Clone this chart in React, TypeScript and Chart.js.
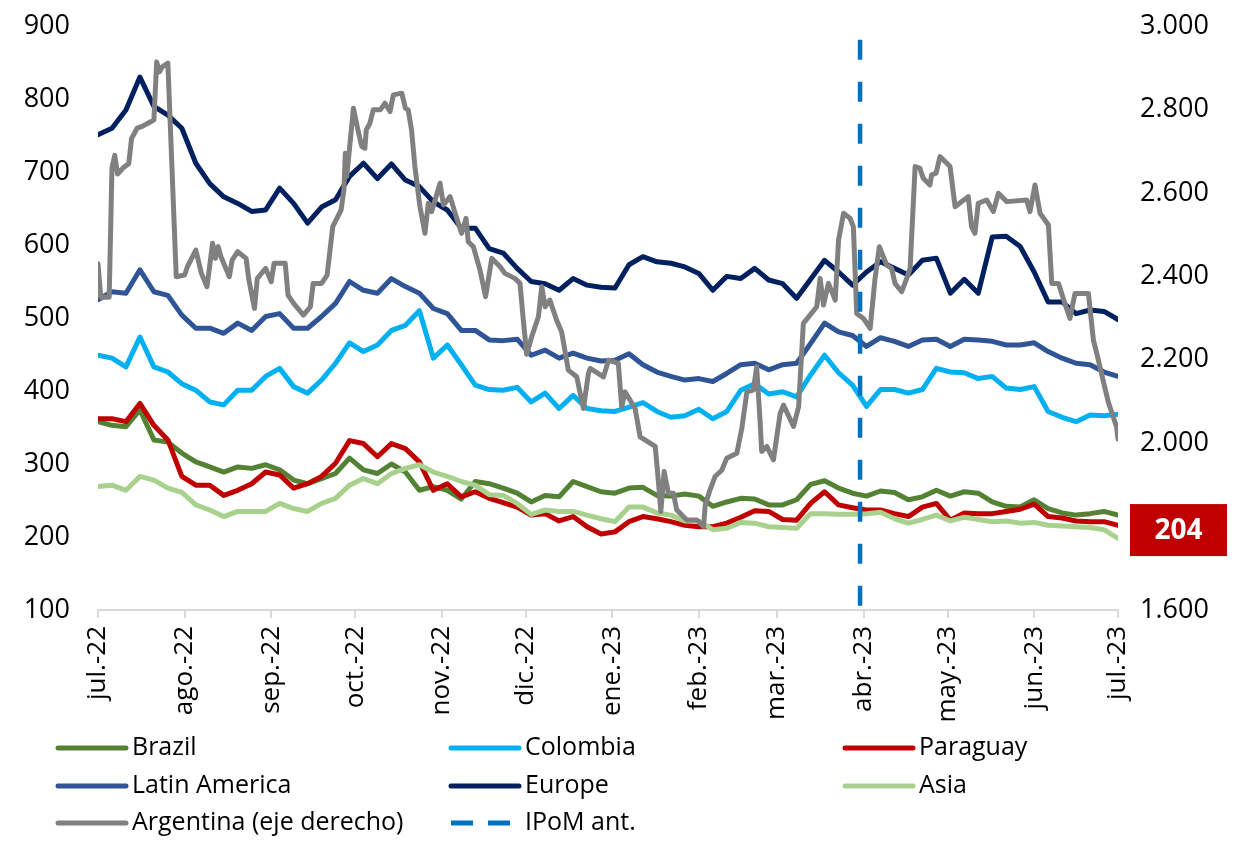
import React, { useEffect, useRef } from "react";
import { Chart, registerables } from "chart.js";

Chart.register(...registerables);

// ---- axis categories ----
const monthDays = [0, 31, 62, 92, 123, 153, 184, 215, 243, 274, 304, 335, 365];
const monthLabels = ["jul.-22", "ago.-22", "sep.-22", "oct.-22", "nov.-22", "dic.-22", "ene.-23", "feb.-23", "mar.-23", "abr.-23", "may.-23", "jun.-23", "jul.-23"];

// days since 1-jul-22 for the regularly sampled series
const sampleDays = [
  0, 5, 10, 15, 20, 25, 30, 35, 40, 45, 50, 55, 60, 65, 70, 75, 80, 85, 90, 95,
  100, 105, 110, 115, 120, 125, 130, 135, 140, 145, 150, 155, 160, 165, 170, 175, 180, 185, 190, 195,
  200, 205, 210, 215, 220, 225, 230, 235, 240, 245, 250, 255, 260, 265, 270, 275, 280, 285, 290, 295,
  300, 305, 310, 315, 320, 325, 330, 335, 340, 345, 350, 355, 360, 365,
];

// ---- series values (left axis) ----
const brazil = [
  358, 353, 351, 374, 333, 330, 315, 303, 296, 289, 296, 294, 299, 292, 278, 273, 280, 287, 308, 292,
  287, 300, 289, 264, 269, 264, 252, 276, 273, 267, 260, 248, 257, 255, 276, 269, 262, 260, 267, 268,
  257, 256, 259, 256, 242, 248, 253, 252, 244, 244, 251, 272, 277, 267, 260, 256, 263, 261, 251, 255,
  264, 256, 262, 260, 248, 242, 241, 251, 239, 233, 230, 232, 235, 230,
];
const colombia = [
  449, 445, 433, 474, 433, 426, 410, 401, 385, 381, 401, 401, 420, 431, 406, 397, 415, 438, 466, 454,
  463, 483, 490, 510, 445, 463, 436, 408, 402, 401, 405, 385, 397, 376, 394, 376, 373, 372, 378, 384,
  372, 364, 366, 375, 362, 372, 401, 410, 396, 399, 392, 422, 449, 425, 408, 379, 402, 402, 397, 402,
  431, 426, 425, 417, 420, 404, 402, 406, 372, 364, 358, 367, 366, 368,
];
const paraguay = [
  362, 362, 358, 383, 353, 333, 283, 271, 271, 257, 264, 273, 289, 285, 267, 273, 283, 301, 332, 328,
  310, 328, 321, 303, 264, 273, 255, 262, 253, 247, 241, 230, 232, 222, 228, 214, 204, 207, 221, 228,
  225, 221, 216, 214, 214, 219, 227, 236, 235, 224, 223, 246, 262, 244, 240, 237, 237, 232, 228, 241,
  246, 223, 233, 232, 232, 235, 238, 245, 228, 226, 222, 221, 221, 216,
];
const latinAmerica = [
  525, 536, 534, 566, 536, 531, 504, 486, 486, 479, 493, 483, 502, 506, 486, 486, 502, 520, 550, 538,
  534, 554, 543, 534, 513, 506, 483, 483, 470, 469, 471, 449, 456, 445, 452, 445, 441, 442, 451, 436,
  426, 420, 415, 417, 413, 424, 436, 438, 429, 436, 438, 465, 493, 481, 476, 461, 473, 468, 461, 470,
  471, 461, 471, 470, 468, 463, 463, 466, 454, 445, 438, 436, 426, 420,
];
const europe = [
  751, 760, 785, 830, 790, 778, 760, 712, 684, 666, 657, 646, 648, 678, 657, 630, 652, 662, 694, 712,
  691, 711, 689, 680, 659, 648, 623, 623, 595, 589, 568, 550, 547, 538, 554, 545, 542, 541, 573, 584,
  577, 575, 570, 561, 538, 557, 554, 568, 552, 547, 527, 553, 579, 563, 545, 563, 577, 568, 559, 579,
  582, 534, 553, 534, 611, 612, 598, 563, 522, 522, 506, 511, 509, 498,
];
const asia = [
  269, 271, 264, 283, 278, 267, 261, 244, 237, 228, 235, 235, 235, 246, 239, 235, 246, 253, 271, 280,
  273, 287, 294, 299, 289, 283, 276, 271, 258, 257, 246, 231, 237, 235, 235, 230, 225, 221, 241, 241,
  233, 230, 222, 222, 210, 212, 220, 219, 214, 213, 212, 232, 232, 231, 231, 232, 234, 225, 219, 224,
  230, 222, 227, 224, 221, 222, 219, 220, 216, 215, 214, 213, 210, 198,
];

// ---- Argentina (right axis), irregular observation days ----
const argentinaDays = [
  0, 1, 4, 5, 6, 7, 9, 11, 12, 14, 16, 19, 20, 21, 22, 23, 25, 28, 31, 32,
  35, 37, 39, 41, 42, 43, 44, 47, 48, 50, 53, 54, 56, 57, 60, 62, 63, 67, 68, 70,
  73.5, 76, 77, 80, 82, 84, 87, 88, 88.5, 89, 89.6, 91.4, 93, 94.4, 95.5, 96, 97.3, 98.5, 101, 102.7,
  104.5, 105.7, 108.7, 110, 111, 112.2, 113.4, 115.2, 117, 118.2, 119.4, 120.6, 122.4, 123.6, 126, 127.8, 130.1, 131.7, 132.5, 134.3,
  136.7, 138.7, 140.9, 143.9, 145.6, 149.2, 151, 152.2, 153.4, 155.2, 157.6, 158.8, 160, 161.7, 164.1, 165.9, 168.3, 171.3, 173.7, 175.5,
  176.1, 180.9, 182.7, 186.2, 187.4, 188.6, 192.2, 194, 199.4, 200.6, 201.4, 202.6, 204.1, 205.9, 207.1, 210.7, 214.3, 216.7, 217.3, 219,
  220.8, 223.2, 225, 228.6, 230.4, 232.2, 234.5, 235.7, 236.9, 237.5, 239.3, 241.7, 244.1, 245.3, 248.9, 250.7, 252.4, 257.2, 258.4, 259.6,
  261.4, 263.8, 265, 266.8, 269.1, 270.3, 271.5, 273.9, 276.3, 278, 279.6, 282.2, 284, 285.2, 287.6, 289.4, 290.6, 292.4, 294.1, 295.3,
  297.7, 298.3, 299.9, 301.3, 304.9, 306.7, 309.1, 311.4, 312.6, 313.8, 315, 318, 320.4, 322.2, 325.2, 332.3, 333.5, 335.3, 337.1, 340.1,
  341.3, 343.7, 346, 347.8, 349.6, 354.4, 356.2, 357.4, 359.8, 361.5, 364.5, 365,
];
const argentina = [
  2430, 2350, 2350, 2660, 2690, 2645, 2660, 2670, 2730, 2755, 2760, 2771, 2775, 2914, 2890, 2902, 2911, 2399, 2403, 2423,
  2463, 2407, 2375, 2479, 2443, 2471, 2447, 2399, 2439, 2459, 2443, 2391, 2323, 2395, 2419, 2387, 2431, 2431, 2355, 2335,
  2307, 2327, 2383, 2383, 2403, 2519, 2559, 2607, 2695, 2639, 2679, 2803, 2751, 2711, 2707, 2751, 2767, 2799, 2799, 2815,
  2795, 2835, 2839, 2803, 2799, 2751, 2663, 2567, 2503, 2575, 2555, 2583, 2623, 2571, 2591, 2551, 2503, 2539, 2483, 2471,
  2415, 2351, 2443, 2423, 2407, 2395, 2383, 2295, 2213, 2255, 2303, 2375, 2327, 2343, 2295, 2267, 2175, 2159, 2083, 2167,
  2179, 2159, 2199, 2191, 2087, 2123, 2083, 2015, 1992, 1904, 1836, 1932, 1880, 1880, 1840, 1816, 1816, 1800, 1852, 1888,
  1920, 1935, 1964, 1976, 2036, 2123, 2127, 2183, 2055, 1980, 1992, 1960, 2071, 2091, 2040, 2087, 2287, 2327, 2395, 2331,
  2383, 2343, 2487, 2551, 2539, 2519, 2311, 2299, 2275, 2391, 2471, 2427, 2419, 2383, 2363, 2395, 2419, 2663, 2659, 2635,
  2619, 2643, 2647, 2687, 2663, 2567, 2579, 2591, 2519, 2503, 2575, 2583, 2555, 2599, 2579, 2583, 2555, 2619, 2551, 2523,
  2383, 2383, 2335, 2299, 2359, 2359, 2247, 2215, 2147, 2099, 2039, 2010,
];

// ---- previous IPoM marker ----
const ipomDay = 272.7;
const ipomRange = [881, 100];

// ---- highlighted value ----
const highlightValue = 204;

const leftTicks = { min: 100, max: 900, step: 100 };
const rightTicks = { min: 1600, max: 3000, step: 200 };

const FONT = "'Open Sans', 'DejaVu Sans', sans-serif";

type Item = { label: string; color: string; dash: boolean };

const legendItems: Item[] = [
  { label: "Brazil", color: "#548235", dash: false },
  { label: "Colombia", color: "#00B0F0", dash: false },
  { label: "Paraguay", color: "#C00000", dash: false },
  { label: "Latin America", color: "#2F5597", dash: false },
  { label: "Europe", color: "#002060", dash: false },
  { label: "Asia", color: "#A9D18E", dash: false },
  { label: "Argentina (eje derecho)", color: "#808080", dash: false },
  { label: "IPoM ant.", color: "#0070C0", dash: true },
];

function fmtThousands(v: number): string {
  const th = Math.floor(v / 1000);
  const rest = String(Math.round(v % 1000)).padStart(3, "0");
  return th > 0 ? `${th}.${rest}` : String(v);
}

const legendPlugin = {
  id: "gridLegend",
  afterDraw(chart: any) {
    const ctx = chart.ctx as CanvasRenderingContext2D;
    const cols = [58, 451, 845];
    const rows = [748, 786, 823];
    ctx.save();
    legendItems.forEach((it, i) => {
      const c = cols[i % 3];
      const r = rows[Math.floor(i / 3)];
      ctx.beginPath();
      ctx.strokeStyle = it.color;
      ctx.lineWidth = 5;
      ctx.lineCap = it.dash ? "butt" : "round";
      if (it.dash) ctx.setLineDash([22, 15]);
      else ctx.setLineDash([]);
      ctx.moveTo(c, r);
      ctx.lineTo(c + 68, r);
      ctx.stroke();
      ctx.setLineDash([]);
      ctx.fillStyle = "#000";
      ctx.font = `25px ${FONT}`;
      ctx.textAlign = "left";
      ctx.textBaseline = "middle";
      ctx.fillText(it.label, c + 74, r);
    });
    ctx.restore();
  },
};

const badgePlugin = {
  id: "valueBadge",
  afterDraw(chart: any) {
    const ctx = chart.ctx as CanvasRenderingContext2D;
    const area = chart.chartArea;
    const yScale = chart.scales.y;
    const cy = yScale.getPixelForValue(highlightValue) - 4;
    const x = area.right + 12;
    const w = 97;
    const h = 52;
    ctx.save();
    ctx.fillStyle = "#C00000";
    ctx.fillRect(x, cy - h / 2, w, h);
    ctx.fillStyle = "#FFFFFF";
    ctx.font = `bold 28px ${FONT}`;
    ctx.textAlign = "center";
    ctx.textBaseline = "middle";
    ctx.fillText(String(highlightValue), x + w / 2, cy + 1);
    ctx.restore();
  },
};

function line(label: string, color: string, days: number[], values: number[], axis: string, order: number) {
  return {
    label,
    data: days.map((d, i) => ({ x: d, y: values[i] })),
    borderColor: color,
    backgroundColor: color,
    borderWidth: 5,
    pointRadius: 0,
    pointHoverRadius: 0,
    tension: 0,
    borderJoinStyle: "round" as const,
    borderCapStyle: "round" as const,
    yAxisID: axis,
    order,
  };
}

export default function App() {
  const ref = useRef<HTMLCanvasElement | null>(null);

  useEffect(() => {
    document.body.style.margin = "0";
    const canvas = ref.current;
    if (!canvas) return;

    const datasets: any[] = [
      line("Brazil", "#548235", sampleDays, brazil, "y", 8),
      line("Colombia", "#00B0F0", sampleDays, colombia, "y", 7),
      line("Paraguay", "#C00000", sampleDays, paraguay, "y", 6),
      line("Latin America", "#2F5597", sampleDays, latinAmerica, "y", 5),
      line("Europe", "#002060", sampleDays, europe, "y", 4),
      line("Asia", "#A9D18E", sampleDays, asia, "y", 3),
      line("Argentina (eje derecho)", "#808080", argentinaDays, argentina, "y1", 2),
      {
        label: "IPoM ant.",
        data: ipomRange.map((v) => ({ x: ipomDay, y: v })),
        borderColor: "#0070C0",
        backgroundColor: "#0070C0",
        borderWidth: 4.5,
        borderDash: [20, 22],
        borderCapStyle: "butt",
        pointRadius: 0,
        yAxisID: "y",
        order: 1,
      },
    ];

    const chart = new Chart(canvas, {
      type: "line",
      data: { datasets },
      options: {
        responsive: false,
        animation: false,
        devicePixelRatio: 1,
        parsing: true,
        layout: { padding: { top: 26, bottom: 108, left: 0, right: 0 } },
        plugins: {
          legend: { display: false },
          tooltip: { enabled: false },
        },
        scales: {
          x: {
            type: "linear",
            min: monthDays[0],
            max: monthDays[monthDays.length - 1],
            afterBuildTicks: (s: any) => {
              s.ticks = monthDays.map((v) => ({ value: v }));
            },
            afterFit: (s: any) => {
              s.height = 125;
            },
            ticks: {
              autoSkip: false,
              minRotation: 90,
              maxRotation: 90,
              padding: 8,
              color: "#000",
              font: { family: FONT, size: 26 },
              callback: (_v: any, i: number) => monthLabels[i],
            },
            grid: {
              drawOnChartArea: false,
              drawTicks: true,
              tickLength: 8,
              color: "#D9D9D9",
              lineWidth: 2,
            },
            border: { display: true, color: "#D9D9D9", width: 2 },
          },
          y: {
            type: "linear",
            position: "left",
            min: leftTicks.min,
            max: leftTicks.max,
            afterFit: (s: any) => {
              s.width = 98;
              s.paddingTop = 0;
              s.paddingBottom = 0;
            },
            ticks: {
              stepSize: leftTicks.step,
              padding: 28,
              color: "#000",
              font: { family: FONT, size: 27 },
            },
            grid: { display: false, drawTicks: false },
            border: { display: false },
          },
          y1: {
            type: "linear",
            position: "right",
            min: rightTicks.min,
            max: rightTicks.max,
            afterFit: (s: any) => {
              s.width = 123;
              s.paddingTop = 0;
              s.paddingBottom = 0;
            },
            ticks: {
              stepSize: rightTicks.step,
              padding: 22,
              color: "#000",
              font: { family: FONT, size: 27 },
              callback: (v: any) => fmtThousands(Number(v)),
            },
            grid: { display: false, drawTicks: false },
            border: { display: false },
          },
        },
      },
      plugins: [legendPlugin, badgePlugin],
    });

    return () => chart.destroy();
  }, []);

  return <canvas ref={ref} width={1241} height={843} style={{ display: "block", width: 1241, height: 843 }} />;
}
